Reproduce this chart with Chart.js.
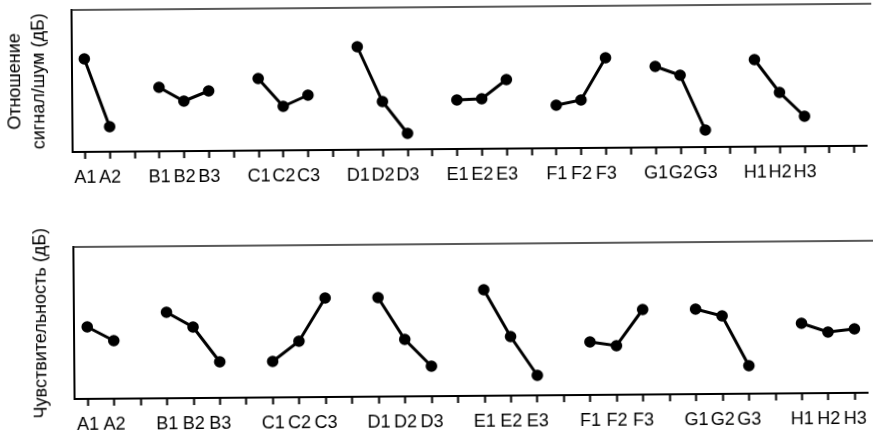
<!DOCTYPE html>
<html>
<head>
<meta charset="utf-8">
<script src="https://cdn.jsdelivr.net/npm/chart.js@4.4.1/dist/chart.umd.min.js"></script>
<style>
  html, body { margin: 0; padding: 0; background: #fff; }
  #wrap { position: relative; width: 873px; height: 435px; overflow: hidden; }
  /* the scanned original is tilted a little */
  #tilt { position: absolute; left: 0; top: 0; width: 873px; height: 435px;
          transform: rotate(-0.45deg); transform-origin: 73px 200px; }
  .box { position: absolute; left: 0; width: 873px; }
  #topBox { top: 0; height: 200px; }
  #bottomBox { top: 200px; height: 235px; }
</style>
</head>
<body>
<div id="wrap">
  <div id="tilt">
    <div class="box" id="topBox"><canvas id="snChart"></canvas></div>
    <div class="box" id="bottomBox"><canvas id="sensChart"></canvas></div>
  </div>
</div>
<script>
// factors and their level means (arbitrary dB units)
const factors = ['A', 'B', 'C', 'D', 'E', 'F', 'G', 'H'];
const snValues = [
    [93, 25],
    [64, 50, 60],
    [72, 44, 55],
    [103, 48, 16],
    [49, 50, 69],
    [43, 48, 90],
    [81, 72, 17],
    [87, 54, 30]
];
const sensValues = [
    [72, 58],
    [86, 71, 36],
    [36, 56, 99],
    [99, 57, 30],
    [106, 59, 20],
    [53, 49, 85],
    [85, 78, 28],
    [70, 61, 64]
];

const FONT = 'Liberation Sans, Arial, sans-serif';

// lay factors out on one category axis with an empty slot between groups
function buildAxis(values, trailing) {
    const labels = [];
    const data = [];
    values.forEach((levels, i) => {
        if (i > 0) { labels.push(''); data.push(null); }
        levels.forEach((v, j) => {
            labels.push(factors[i] + (j + 1));
            data.push(v);
        });
    });
    for (let k = 0; k < trailing; k++) { labels.push(''); data.push(null); }
    return { labels, data };
}

const topBorder = {
    id: 'topBorder',
    afterDraw(chart) {
        const { ctx, chartArea: a } = chart;
        ctx.save();
        ctx.strokeStyle = '#222';
        ctx.lineWidth = 1.5;
        ctx.beginPath();
        ctx.moveTo(a.left, a.top);
        ctx.lineTo(a.right + 10, a.top);
        ctx.stroke();
        ctx.restore();
    }
};

function makeChart(id, values, trailing, yMax, title, titlePad, padTop, xHeight, labelPad) {
    const axis = buildAxis(values, trailing);
    return new Chart(document.getElementById(id), {
        type: 'line',
        data: {
            labels: axis.labels,
            datasets: [{
                data: axis.data,
                borderColor: '#000',
                borderWidth: 3,
                pointRadius: 5.8,
                pointBackgroundColor: '#000',
                pointBorderWidth: 0,
                spanGaps: false,
                tension: 0
            }]
        },
        options: {
            responsive: true,
            maintainAspectRatio: false,
            animation: false,
            layout: { padding: { top: padTop, right: 0, bottom: 0, left: 0 } },
            plugins: { legend: { display: false }, tooltip: { enabled: false } },
            scales: {
                x: {
                    type: 'category',
                    offset: true,
                    grid: { display: true, drawOnChartArea: false, offset: false, tickLength: 7, tickWidth: 2, tickColor: '#000' },
                    border: { display: true, color: '#000', width: 2 },
                    ticks: { color: '#000', autoSkip: false, maxRotation: 0, padding: labelPad, font: { family: FONT, size: 18 } },
                    afterFit: s => { s.height = xHeight; }
                },
                y: {
                    min: 0,
                    max: yMax,
                    grid: { display: false },
                    border: { display: true, color: '#000', width: 2 },
                    ticks: { display: false },
                    title: { display: true, text: title, color: '#000', padding: { top: titlePad, bottom: 0 }, font: { family: FONT, size: 18, lineHeight: 1.35 } },
                    afterFit: s => { s.width = 73; }
                }
            }
        },
        plugins: [topBorder]
    });
}

makeChart('snChart', snValues, 2, 142, ['Отношение', 'сигнал/шум (дБ)'], 4, 10, 48, 8);
makeChart('sensChart', sensValues, 0, 152, 'Чувствительность (дБ)', 28, 47, 36, 8);
</script>
</body>
</html>
